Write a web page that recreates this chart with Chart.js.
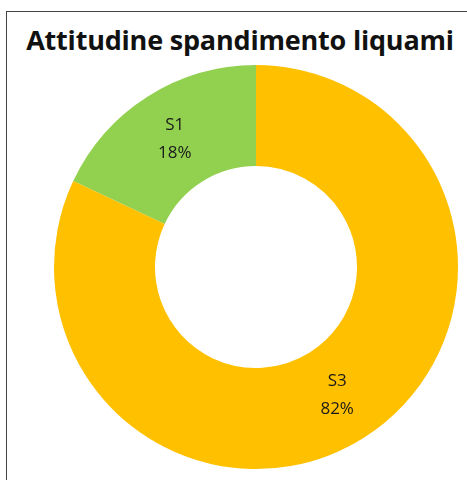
<!DOCTYPE html>
<html>
<head>
<meta charset="utf-8">
<script src="https://cdn.jsdelivr.net/npm/chart.js@4/dist/chart.umd.min.js"></script>
<style>
  html, body { margin: 0; padding: 0; background: #fff; }
  body { width: 467px; height: 480px; position: relative; overflow: hidden; }
  #frame {
    position: absolute; left: 6px; top: 11px; width: 500px; height: 500px;
    border: 1px solid #444; box-sizing: border-box;
  }
  #title {
    position: absolute; left: 0; top: 21px; width: 480px; text-align: center;
    font-family: "Open Sans", sans-serif; font-weight: bold; font-size: 27px;
    letter-spacing: -0.2px; color: #111; white-space: nowrap; line-height: 38px;
  }
  #chart { position: absolute; left: 0; top: 0; }
</style>
</head>
<body>
<div id="frame"></div>
<div id="title">Attitudine spandimento liquami</div>
<canvas id="chart" width="467" height="480"></canvas>
<script>
// --------------------
// Data
// --------------------
const categories = ['S1', 'S3'];
const shares = [18, 82];
const sliceColors = ['#92D050', '#FFC000'];

// --------------------
// Slice labels (category + percentage)
// --------------------
const sliceLabels = {
  id: 'sliceLabels',
  afterDatasetsDraw(chart) {
    const { ctx } = chart;
    const meta = chart.getDatasetMeta(0);
    const total = shares.reduce((s, v) => s + v, 0);
    ctx.save();
    ctx.font = '17px "Open Sans", sans-serif';
    ctx.fillStyle = '#1a1a1a';
    ctx.textAlign = 'center';
    ctx.textBaseline = 'middle';
    meta.data.forEach((arc, i) => {
      const p = arc.tooltipPosition();
      const pct = Math.round(shares[i] / total * 100) + '%';
      ctx.fillText(categories[i], p.x, p.y - 14);
      ctx.fillText(pct, p.x, p.y + 14);
    });
    ctx.restore();
  }
};

new Chart(document.getElementById('chart'), {
  type: 'doughnut',
  data: {
    labels: categories,
    datasets: [{
      data: shares,
      backgroundColor: sliceColors,
      borderWidth: 0
    }]
  },
  options: {
    responsive: false,
    animation: false,
    cutout: '50%',
    rotation: -shares[0] / 100 * 360,
    layout: { padding: { left: 54, right: 9, top: 64, bottom: 10 } },
    plugins: {
      legend: { display: false },
      title: { display: false },
      tooltip: { enabled: false }
    }
  },
  plugins: [sliceLabels]
});
</script>
</body>
</html>
